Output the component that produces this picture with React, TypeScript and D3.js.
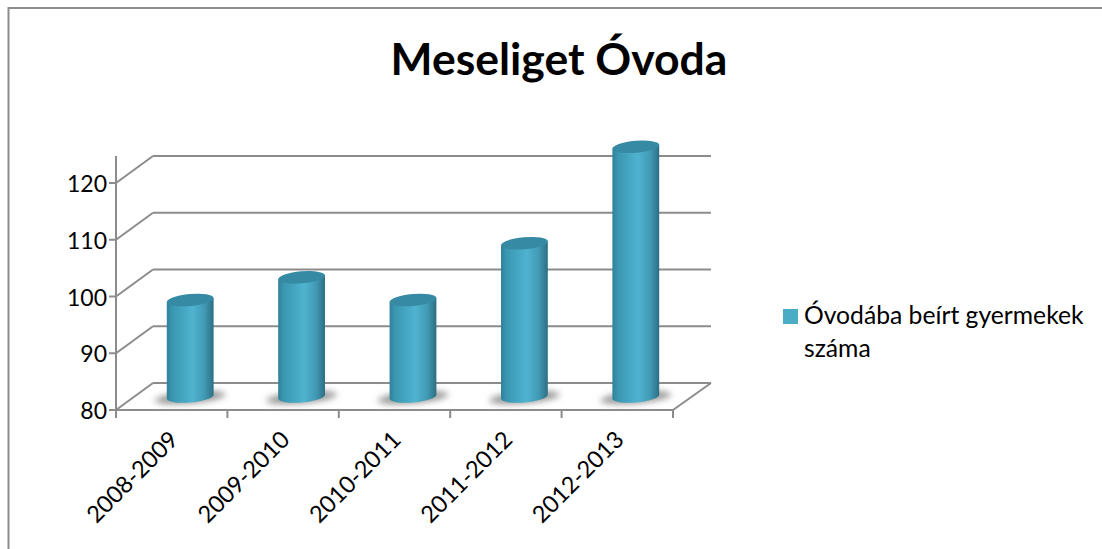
import { useEffect, useRef } from "react";
import * as d3 from "d3";

const categories = ["2008-2009", "2009-2010", "2010-2011", "2011-2012", "2012-2013"];
const enrolled = [97, 101, 97, 107, 124];
const yTicks = [80, 90, 100, 110, 120];
const seriesName = ["Óvodába beírt gyermekek", "száma"];
const chartTitle = "Meseliget Óvoda";

const FONT = "Lato, 'Open Sans', sans-serif";
const GRID = "#8c8c8c";

const App = () => {
  const ref = useRef<SVGSVGElement | null>(null);

  useEffect(() => {
    const el = ref.current;
    if (!el) return;
    const svg = d3.select(el);
    svg.selectAll("*").remove();

    const depth = { x: 37, y: -27 };
    const x = d3.scaleBand<string>().domain(categories).range([116, 673]);
    const y = d3.scaleLinear().domain([80, 120]).range([410, 183]);

    const defs = svg.append("defs");
    const grad = defs.append("linearGradient").attr("id", "cyl").attr("x1", 0).attr("x2", 1).attr("y1", 0).attr("y2", 0);
    [
      [0, "#2f8199"],
      [0.12, "#3a97b1"],
      [0.55, "#4fb3d0"],
      [0.8, "#429ab5"],
      [1, "#2c6f84"],
    ].forEach(([o, c]) => grad.append("stop").attr("offset", o as number).attr("stop-color", c as string));
    defs.append("filter").attr("id", "soft").attr("x", "-30%").attr("y", "-100%").attr("width", "160%").attr("height", "300%")
      .append("feGaussianBlur").attr("stdDeviation", 3);

    // frame
    svg.append("path").attr("d", "M8.5,549V8H1102").attr("fill", "none").attr("stroke", GRID).attr("stroke-width", 2);

    // title
    svg.append("text").attr("x", 559).attr("y", 75).attr("text-anchor", "middle")
      .style("font", `bold 44.5px ${FONT}`).style("fill", "#000").text(chartTitle);

    // back wall lines and side wall
    const line = svg.append("g").attr("fill", "none").attr("stroke", GRID).attr("stroke-width", 2);
    const [x0, x1] = x.range();
    yTicks.forEach((t) => {
      const yy = y(t);
      line.append("line").attr("x1", x0).attr("x2", x0 + depth.x).attr("y1", yy).attr("y2", yy + depth.y);
      line.append("line").attr("x1", x0 + depth.x).attr("x2", x1 + depth.x + 1).attr("y1", yy + depth.y).attr("y2", yy + depth.y);
    });
    // floor edges and axes
    line.append("line").attr("x1", x0).attr("x2", x1).attr("y1", y(80)).attr("y2", y(80));
    line.append("line").attr("x1", x1).attr("x2", x1 + depth.x + 1).attr("y1", y(80)).attr("y2", y(80) + depth.y);
    line.append("line").attr("x1", x0).attr("x2", x0).attr("y1", y(80) + 8).attr("y2", y(120) + depth.y);
    yTicks.forEach((t) => {
      line.append("line").attr("x1", x0 - 7).attr("x2", x0).attr("y1", y(t)).attr("y2", y(t));
    });
    categories.concat("end").forEach((c, i) => {
      const xx = x0 + i * x.step();
      line.append("line").attr("x1", xx).attr("x2", xx).attr("y1", y(80)).attr("y2", y(80) + 8);
    });

    // y labels
    yTicks.forEach((t) => {
      svg.append("text").attr("x", 107).attr("y", y(t) + 9).attr("text-anchor", "end")
        .style("font", `23px ${FONT}`).style("fill", "#000").text(t);
    });

    // x labels, rotated
    categories.forEach((c) => {
      const cx = x(c)! + x.bandwidth() / 2 + 8;
      svg.append("text").attr("transform", `translate(${cx},${y(80) + 31}) rotate(-45)`).attr("text-anchor", "end")
        .style("font", `23.5px ${FONT}`).style("fill", "#000").text(c);
    });

    // cylinders
    const rx = 23.5, ry = 6, tilt = -5;
    const mid = { x: depth.x / 2, y: depth.y / 2 };
    categories.forEach((c, i) => {
      const cx = x(c)! + x.bandwidth() / 2 + mid.x;
      const yBase = y(80) + mid.y;
      const yTop = y(enrolled[i]) + mid.y;
      const g = svg.append("g");
      g.append("ellipse").attr("cx", cx).attr("cy", yBase + 1).attr("rx", rx + 12).attr("ry", 6)
        .attr("transform", `rotate(${tilt} ${cx} ${yBase + 1})`)
        .attr("fill", "#9a9a9a").attr("filter", "url(#soft)");
      const dx = rx * Math.cos((tilt * Math.PI) / 180);
      const dy = rx * Math.sin((tilt * Math.PI) / 180);
      g.append("path")
        .attr("d", `M${cx - dx},${yTop - dy}L${cx - dx},${yBase - dy}A${rx},${ry} ${tilt} 0 0 ${cx + dx},${yBase + dy}L${cx + dx},${yTop + dy}Z`)
        .attr("fill", "url(#cyl)");
      g.append("ellipse").attr("cx", cx).attr("cy", yTop).attr("rx", rx).attr("ry", ry)
        .attr("transform", `rotate(${tilt} ${cx} ${yTop})`).attr("fill", "#378aa3");
    });

    // legend
    svg.append("rect").attr("x", 783).attr("y", 309).attr("width", 15).attr("height", 15).attr("fill", "#4bacc6");
    seriesName.forEach((s, i) => {
      svg.append("text").attr("x", 804).attr("y", 324 + i * 33)
        .style("font", `24.7px ${FONT}`).style("fill", "#000").text(s);
    });
  }, []);

  return <svg ref={ref} width={1102} height={549} style={{ position: "absolute", left: 0, top: 0, background: "#fff" }} />;
};

export default App;
